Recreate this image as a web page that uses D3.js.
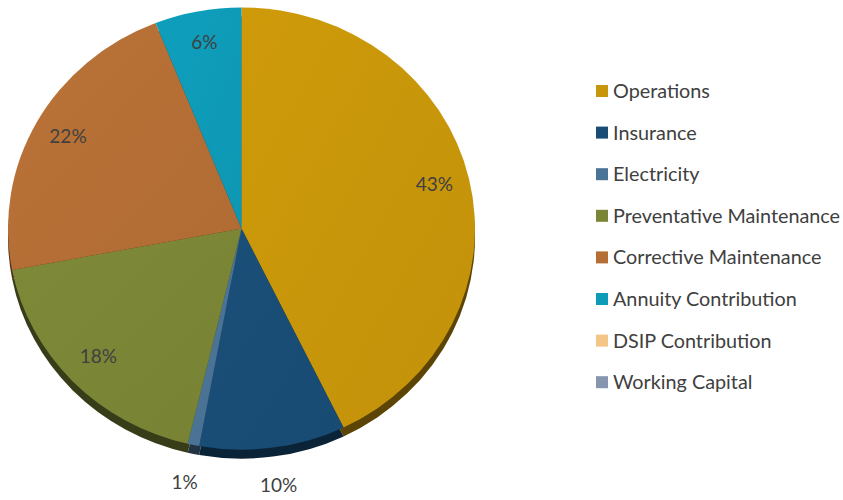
<!DOCTYPE html>
<html>
<head>
<meta charset="utf-8">
<script src="https://cdn.jsdelivr.net/npm/d3@7"></script>
<style>
  body { margin: 0; background: #fff; }
  text { font-family: Lato, "Open Sans", sans-serif; fill: #404040; }
</style>
</head>
<body>
<svg id="chart"></svg>
<script>
// chart data
const categories = ['Operations', 'Insurance', 'Electricity', 'Preventative Maintenance',
  'Corrective Maintenance', 'Annuity Contribution', 'DSIP Contribution', 'Working Capital'];
const shares = [42.8, 10.1, 0.8, 18.3, 22.0, 6.0, 0, 0];
const colors = ['#c8960a', '#194d76', '#4a7396', '#7a8636', '#b56f35', '#0e9bb8', '#f3c587', '#8596ae'];
const outsideLabels = ['Insurance', 'Electricity'];

const width = 843, height = 500;
const cx = 241.5, cy = 228.5, r = 233.5, squash = 0.947, depth = 9;

const svg = d3.select('#chart')
    .attr('width', width)
    .attr('height', height);

const data = categories.map((c, i) => ({name: c, value: shares[i], color: colors[i]}));

const pie = d3.pie()
    .value(d => d.value)
    .sort(null);

const arcs = pie(data).filter(d => d.data.value > 0);
const arc = d3.arc().innerRadius(0).outerRadius(r);

// slight shading on the slice faces
const defs = svg.append('defs');
data.forEach((d, i) => {
    const g = defs.append('linearGradient')
        .attr('id', 'grad' + i)
        .attr('x1', 0).attr('y1', 0).attr('x2', 1).attr('y2', 1);
    g.append('stop').attr('offset', 0).attr('stop-color', d3.color(d.color).brighter(0.08));
    g.append('stop').attr('offset', 1).attr('stop-color', d3.color(d.color).darker(0.08));
});

// side of the disc
const side = svg.append('g')
    .attr('transform', `translate(${cx},${cy + depth}) scale(1,${squash})`);
side.selectAll('path')
    .data(arcs)
    .join('path')
    .attr('d', arc)
    .attr('fill', d => d3.color(d.data.color).darker(2.2));

// top face
const face = svg.append('g')
    .attr('transform', `translate(${cx},${cy}) scale(1,${squash})`);
face.selectAll('path')
    .data(arcs)
    .join('path')
    .attr('d', arc)
    .attr('fill', d => 'url(#grad' + categories.indexOf(d.data.name) + ')');

// percentage labels
const pos = d => {
    const a = (d.startAngle + d.endAngle) / 2;
    const rr = outsideLabels.includes(d.data.name) ? 276 : 198;
    return [cx + Math.sin(a) * rr, cy - 2 - Math.cos(a) * rr * squash];
};
svg.append('g').selectAll('text')
    .data(arcs)
    .join('text')
    .attr('x', d => pos(d)[0])
    .attr('y', d => pos(d)[1])
    .attr('text-anchor', 'middle')
    .attr('dy', '0.35em')
    .style('font-size', '19px')
    .text(d => Math.round(d.data.value) + '%');

// legend
const legend = svg.append('g')
    .attr('transform', 'translate(596,91)');
const item = legend.selectAll('g')
    .data(data)
    .join('g')
    .attr('transform', (d, i) => `translate(0,${i * 41.6})`);
item.append('rect')
    .attr('x', 0).attr('y', -6)
    .attr('width', 12).attr('height', 12)
    .attr('fill', d => d.color);
item.append('text')
    .attr('x', 17)
    .attr('dy', '0.35em')
    .style('font-size', '19.8px')
    .text(d => d.name);
</script>
</body>
</html>
